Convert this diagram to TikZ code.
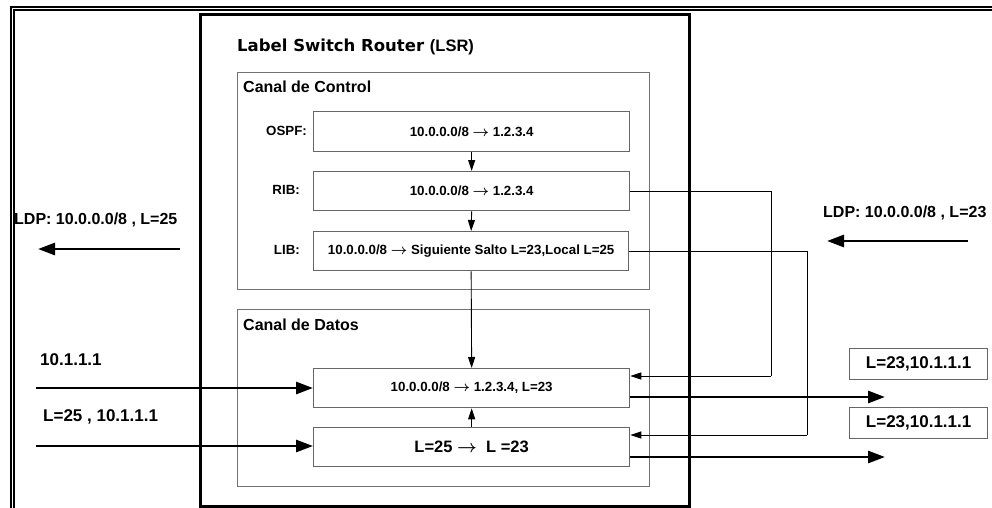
\documentclass[tikz,border=0pt]{standalone}
\usepackage{fontspec}
\setmainfont{Liberation Sans}
\newfontfamily\verd{DejaVu Sans}
\usetikzlibrary{arrows.meta}
\newcommand{\rarr}{{\boldmath$\rightarrow$}}
\begin{document}
\begin{tikzpicture}[x=1pt,y=-1pt,
  lsrbox/.style={draw, line width=3pt, inner sep=0pt, anchor=north west},
  chan/.style={draw=black!55, line width=1.3pt, inner sep=0pt, anchor=north west},
  tbox/.style={draw=black!60, line width=1.3pt, inner sep=0pt, anchor=north west,
     minimum width=316, minimum height=39, font=\fontsize{13.3}{16}\selectfont\bfseries},
  obox/.style={draw=black!60, line width=1.3pt, inner sep=0pt, anchor=north west,
     minimum width=138, minimum height=31, font=\fontsize{17}{20}\selectfont\bfseries},
  lbl/.style={inner sep=0pt, anchor=east, font=\fontsize{13.3}{16}\selectfont\bfseries},
  big/.style={inner sep=0pt, anchor=west, font=\fontsize{16}{19}\selectfont\bfseries},
  inlbl/.style={inner sep=0pt, anchor=west, font=\fontsize{17}{20}\selectfont\bfseries},
  thickarr/.style={line width=2.8pt, -{Triangle[length=17pt,width=12pt]}},
  thinarr/.style={line width=0.9pt, -{Triangle[length=11pt,width=7pt]}},
  plain/.style={line width=0.9pt}
]
\useasboundingbox (0,0) rectangle (992,508);
\fill[white] (0,0) rectangle (992,508);
% outer double frame
\draw[line width=2pt] (10.5,7) rectangle (1010,530);
\draw[line width=1.5pt] (14,10) rectangle (1010,530);

% LSR box
\node[lsrbox, minimum width=489, minimum height=492] (lsr) at (199,13) {};
\node[inner sep=0pt, anchor=west] (title) at (237,47)
  {\fontsize{16.5}{19}\selectfont\bfseries{\verd Label Switch Router }(LSR)};

% channels
\node[chan, minimum width=412, minimum height=217] (ctrl) at (237,72) {};
\node[big] (ctrltxt) at (243,87) {Canal de Control};
\node[chan, minimum width=412, minimum height=177] (data) at (237,309) {};
\node[big] (datatxt) at (243,325) {Canal de Datos};

% control boxes
\node[tbox, minimum height=40] (ospf) at (313,111) {10.0.0.0/8 \rarr{} 1.2.3.4};
\node[tbox] (rib) at (313,171) {10.0.0.0/8 \rarr{} 1.2.3.4};
\node[tbox, minimum width=315] (lib) at (313,231) {10.0.0.0/8 \rarr{} Siguiente Salto L=23,Local L=25};
\node[lbl] (ospfl) at (307,131) {OSPF:};
\node[lbl] (ribl) at (300,190) {RIB:};
\node[lbl] (libl) at (300,250) {LIB:};

% data boxes
\node[tbox] (fwd) at (313,368) {10.0.0.0/8 \rarr{} 1.2.3.4, L=23};
\node[tbox, font=\fontsize{16.5}{19}\selectfont\bfseries] (swap) at (313,427) {L=25 \rarr\ \ L =23};

% output label boxes
\node[obox] (out1) at (849,348) {L=23,10.1.1.1};
\node[obox] (out2) at (849,407) {L=23,10.1.1.1};

% LDP texts
\node[big] (ldpl) at (14,220) {LDP: 10.0.0.0/8 , L=25};
\node[big] (ldpr) at (823,213) {LDP: 10.0.0.0/8 , L=23};
\node[inlbl] (in1) at (40,360) {10.1.1.1};
\node[inlbl] (in2) at (43,417) {L=25 , 10.1.1.1};

% coordinates
\coordinate (ldplS) at (180,249);
\coordinate (ldplE) at (38,249);
\coordinate (ldprS) at (968,241);
\coordinate (ldprE) at (827,241);
\coordinate (in1S) at (36,388);
\coordinate (in2S) at (36,446);
\coordinate (o1E) at (885,397);
\coordinate (o2E) at (885,457);
\coordinate (r1) at (771,376);
\coordinate (r2) at (807,435);

% control connectors
\draw[thinarr] (ospf.south) -- (rib.north);
\draw[thinarr] (rib.south) -- (lib.north);
\draw[thinarr] (lib.south) -- (fwd.north);
\draw[thinarr] (swap.north) -- (fwd.south);
\draw[plain] (rib.east) -| (r1);
\draw[thinarr] (r1) -- (fwd.east |- r1);
\draw[plain] (lib.east) -| (r2);
\draw[thinarr] (r2) -- (swap.east |- r2);

% thick arrows
\draw[thickarr] (ldplS) -- (ldplE);
\draw[thickarr] (ldprS) -- (ldprE);
\draw[thickarr] (in1S) -- (fwd.west |- in1S);
\draw[thickarr] (in2S) -- (swap.west |- in2S);
\draw[thickarr] (fwd.east |- o1E) -- (o1E);
\draw[thickarr] (swap.east |- o2E) -- (o2E);
\end{tikzpicture}
\end{document}
